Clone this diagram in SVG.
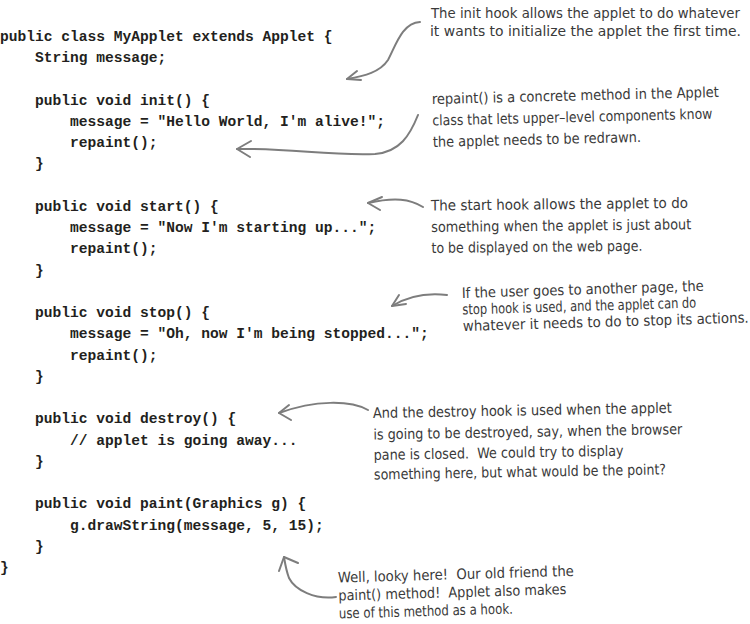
<svg xmlns="http://www.w3.org/2000/svg" width="750" height="624" viewBox="0 0 750 624">
<defs>
<style>
.code{font-family:"Liberation Mono","DejaVu Sans Mono",monospace;font-weight:bold;font-size:14.58px;fill:#231f20}
.note{font-family:"Liberation Sans Narrow","DejaVu Sans Condensed","Liberation Sans",sans-serif;font-size:14.5px;fill:#3a3a3a}
.arr{fill:none;stroke:#7d7d7d;stroke-width:2;stroke-linecap:round;stroke-linejoin:round}
</style>
</defs>
<rect width="750" height="624" fill="#ffffff"/>
<g id="code" class="code">
<text x="0" y="41">public class MyApplet extends Applet {</text>
<text x="35" y="62.2">String message;</text>
<text x="35" y="104.7">public void init() {</text>
<text x="70" y="126">message = "Hello World, I'm alive!";</text>
<text x="70" y="147.2">repaint();</text>
<text x="35" y="168.4">}</text>
<text x="35" y="210.9">public void start() {</text>
<text x="70" y="232.2">message = "Now I'm starting up...";</text>
<text x="70" y="253.4">repaint();</text>
<text x="35" y="274.6">}</text>
<text x="35" y="317.1">public void stop() {</text>
<text x="70" y="338.4">message = "Oh, now I'm being stopped...";</text>
<text x="70" y="359.6">repaint();</text>
<text x="35" y="380.8">}</text>
<text x="35" y="423.3">public void destroy() {</text>
<text x="70" y="444.6">// applet is going away...</text>
<text x="35" y="465.8">}</text>
<text x="35" y="508.3">public void paint(Graphics g) {</text>
<text x="70" y="529.5">g.drawString(message, 5, 15);</text>
<text x="35" y="550.8">}</text>
<text x="0" y="572">}</text>
</g>
<g id="note-init" class="note">
<text x="431" y="18" textLength="309" lengthAdjust="spacingAndGlyphs">The init hook allows the applet to do whatever</text>
<text x="430" y="36" textLength="311" lengthAdjust="spacingAndGlyphs">it wants to initialize the applet the first time.</text>
</g>
<g id="note-repaint" class="note" transform="rotate(-1.4 432 104)">
<text x="432" y="104" textLength="287" lengthAdjust="spacingAndGlyphs">repaint() is a concrete method in the Applet</text>
<text x="432" y="125.5" textLength="280" lengthAdjust="spacingAndGlyphs">class that lets upper–level components know</text>
<text x="432" y="147" textLength="208" lengthAdjust="spacingAndGlyphs">the applet needs to be redrawn.</text>
</g>
<g id="note-start" class="note" transform="rotate(-0.6 431 210.5)">
<text x="431" y="210.5" textLength="257" lengthAdjust="spacingAndGlyphs">The start hook allows the applet to do</text>
<text x="431" y="232" textLength="260" lengthAdjust="spacingAndGlyphs">something when the applet is just about</text>
<text x="431" y="253" textLength="211" lengthAdjust="spacingAndGlyphs">to be displayed on the web page.</text>
</g>
<g id="note-stop" class="note" transform="rotate(-1.7 462 298)">
<text x="462" y="298" textLength="242" lengthAdjust="spacingAndGlyphs">If the user goes to another page, the</text>
<text x="462" y="314.5" textLength="234" lengthAdjust="spacingAndGlyphs">stop hook is used, and the applet can do</text>
<text x="462" y="331" textLength="286" lengthAdjust="spacingAndGlyphs">whatever it needs to do to stop its actions.</text>
</g>
<g id="note-destroy" class="note" transform="rotate(-1 373 418)">
<text x="373" y="418" textLength="299" lengthAdjust="spacingAndGlyphs">And the destroy hook is used when the applet</text>
<text x="373" y="439.5" textLength="309" lengthAdjust="spacingAndGlyphs">is going to be destroyed, say, when the browser</text>
<text x="373" y="460" textLength="250" lengthAdjust="spacingAndGlyphs" xml:space="preserve">pane is closed.  We could try to display</text>
<text x="373" y="479.5" textLength="292" lengthAdjust="spacingAndGlyphs">something here, but what would be the point?</text>
</g>
<g id="note-paint" class="note" transform="rotate(-1.6 338 582.5)">
<text x="338" y="582.5" textLength="236" lengthAdjust="spacingAndGlyphs" xml:space="preserve">Well, looky here!  Our old friend the</text>
<text x="338" y="600.5" textLength="228" lengthAdjust="spacingAndGlyphs" xml:space="preserve">paint() method!  Applet also makes</text>
<text x="338" y="618.5" textLength="174" lengthAdjust="spacingAndGlyphs">use of this method as a hook.</text>
</g>
<g id="connectors" class="arr">
<path d="M420,22 C402,23 396,45 388,60 C380,72 365,76 347,79"/>
<path d="M357,71 L347,79 L361,80"/>
<path d="M418,115 C410,135 400,152 375,154 C330,156 290,148 237,149"/>
<path d="M251,141 L237,149 L250,157"/>
<path d="M423,207 C410,199 395,197 368,203"/>
<path d="M382,197 L368,203 L380,210"/>
<path d="M447,295 C430,293 410,295 392,306"/>
<path d="M399,295 L392,306 L406,304"/>
<path d="M368,410 C350,400 315,400 279,413"/>
<path d="M289,405 L279,413 L291,420"/>
<path d="M336,597 C315,600 295,590 289,578 C286,570 285,563 284,557"/>
<path d="M279,571 L284,557 L298,563"/>
</g>
</svg>
